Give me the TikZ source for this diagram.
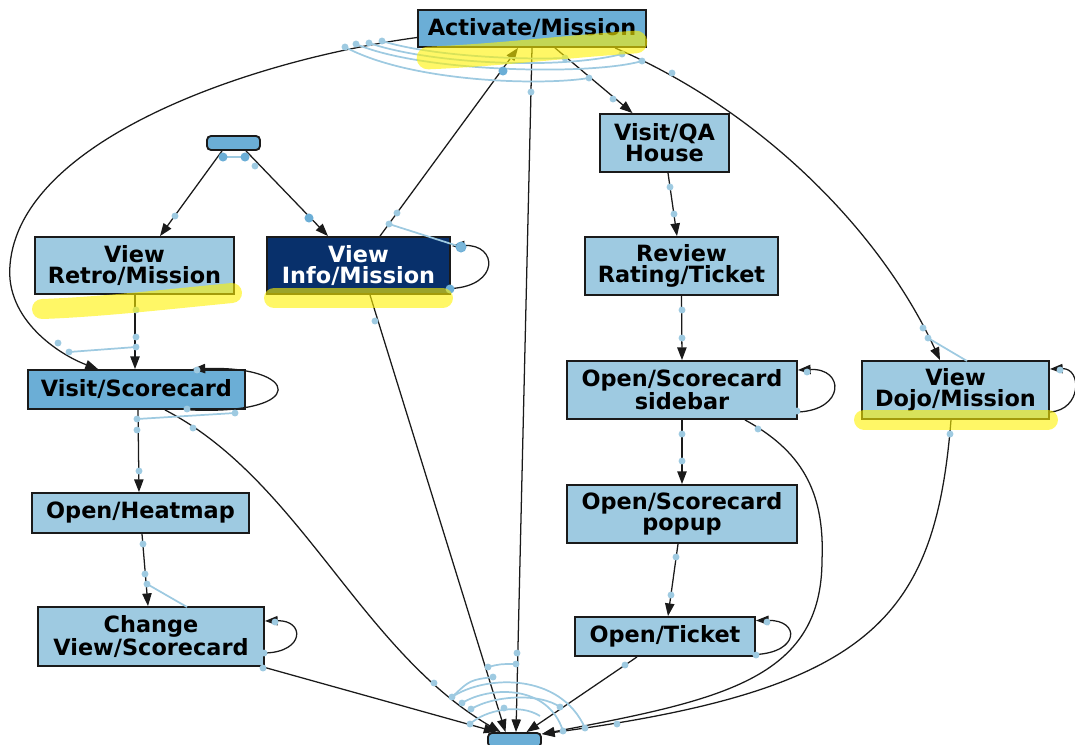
\documentclass[tikz,border=0pt]{standalone}
\usepackage{fontspec}
\setmainfont{DejaVu Sans}
\usetikzlibrary{arrows.meta,calc}
\definecolor{midblue}{HTML}{6BAED6}
\definecolor{lightblue}{HTML}{9ECAE1}
\definecolor{navy}{HTML}{08306B}
\definecolor{hiyellow}{HTML}{FFF200}
\definecolor{edgegray}{HTML}{1A1A1A}

\begin{document}
\begin{tikzpicture}[x=0.75pt,y=-0.75pt,
  state/.style={draw=edgegray, line width=1.4pt, fill=lightblue, inner sep=0pt,
    align=center, text=black, font=\fontsize{16.8}{15.8}\selectfont\bfseries},
  wh/.style 2 args={minimum width=#1*0.75pt, minimum height=#2*0.75pt},
  terminal/.style={state, fill=midblue, rounded corners=3pt, wh={53}{14}},
  edge/.style={draw=edgegray, line width=0.95pt},
  arr/.style={-{Triangle[length=9.5pt,width=7pt]}},
  deco/.style={draw=lightblue, line width=1.3pt},
  hl/.style={draw=hiyellow, opacity=0.6, line cap=round, line join=round, line width=15pt}
]
\useasboundingbox (0,0) rectangle (1075,744);

% states
\node[state,fill=midblue,wh={228}{37}] (act) at (532,28.5) {Activate/Mission};
\node[terminal] (src) at (233.5,143) {};
\node[state,wh={199}{57}] (retro) at (134.5,265.5) {View\\Retro/Mission};
\node[state,fill=navy,text=white,wh={183}{57}] (info) at (358.5,265.5) {View\\Info/Mission};
\node[state,wh={129}{58}] (qa) at (664.5,143) {Visit/QA\\House};
\node[state,wh={193}{58}] (review) at (681.5,266) {Review\\Rating/Ticket};
\node[state,fill=midblue,wh={217}{39}] (vscore) at (136.5,389.5) {Visit/Scorecard};
\node[state,wh={230}{58}] (sidebar) at (682,390) {Open/Scorecard\\sidebar};
\node[state,wh={187}{58}] (dojo) at (955.5,390) {View\\Dojo/Mission};
\node[state,wh={217}{40}] (heat) at (140.5,513) {Open/Heatmap};
\node[state,wh={230}{58}] (popup) at (682,514) {Open/Scorecard\\popup};
\node[state,wh={226}{59}] (change) at (151,636.5) {Change\\View/Scorecard};
\node[state,wh={180}{39}] (ticket) at (665,636.5) {Open/Ticket};
\node[terminal] (sink) at (514.5,740) {};

% transitions
\draw[edge,arr] ($(act.south)+(23,0)$) -- ($(qa.north)+(-32,0)$);
\draw[edge,arr] (act.south) -- ($(sink.north)+(1.5,0)$);
\draw[edge,arr] ($(info.north)+(21.5,0)$) -- ($(act.south)+(-14,0)$);
\draw[edge,arr] ($(act.west)+(0,9)$) .. controls (250,60) and (20,140) .. (10,265)
  .. controls (5,320) and (60,355) .. ($(vscore.north)+(-38.5,0)$);
\draw[edge,arr] ($(act.south)+(83,0)$) .. controls (760,110) and (880,230) .. ($(dojo.north)+(-15.5,0)$);
\draw[edge,arr] ($(src.south)+(-11.5,0)$) -- ($(retro.north)+(25.5,0)$);
\draw[edge,arr] ($(src.south)+(12.5,0)$) -- ($(info.north)+(-30.5,0)$);
\draw[edge,arr] ($(info.south)+(11.5,0)$) -- ($(sink.north)+(-9,0)$);
\draw[edge,arr] ($(info.east)+(0,23)$) .. controls (500,286) and (498,244) .. ($(info.east)+(1,-19.5)$);
\draw[edge,arr] ($(qa.south)+(3.5,0)$) -- ($(review.north)+(-4.5,0)$);
\draw[edge,arr] (review.south) -- (sidebar.north);
\draw[edge,arr] (sidebar.south) -- (popup.north);
\draw[edge,arr] ($(popup.south)+(-4,0)$) -- ($(ticket.north)+(3,0)$);
\draw[edge,arr] ($(sidebar.east)+(0,22)$) .. controls (845,410) and (845,368) .. ($(sidebar.east)+(0,-20)$);
\draw[edge,arr] ($(sidebar.south)+(63,0)$) .. controls (800,450) and (825,490) .. (822,560)
  .. controls (822,680) and (720,700) .. ($(sink.east)+(0,-6)$);
\draw[edge,arr] ($(dojo.east)+(0,22)$) .. controls (1082,410) and (1082,368) .. ($(dojo.east)+(0,-21)$);
\draw[edge,arr] ($(dojo.south)+(-4.5,0)$) .. controls (935,620) and (870,690) .. ($(sink.east)+(0,-6)$);
\draw[edge,arr] ($(retro.south)+(0.5,0)$) -- ($(vscore.north)+(-1.5,0)$);
\draw[edge,arr] ($(vscore.south)+(54,0)$) .. controls (310,415) and (300,365) .. ($(vscore.north)+(56,0)$);
\draw[edge,arr] ($(vscore.south)+(1.5,0)$) -- ($(heat.north)+(-1.5,0)$);
\draw[edge,arr] ($(vscore.south)+(28.5,0)$) .. controls (300,480) and (360,650) .. ($(sink.north)+(-14,0)$);
\draw[edge,arr] ($(heat.south)+(1.5,0)$) -- ($(change.north)+(-3,0)$);
\draw[edge,arr] ($(change.east)+(0,16.5)$) .. controls (305,652) and (305,620) .. ($(change.east)+(0,-15.5)$);
\draw[edge,arr] ($(change.south east)+(-2,0)$) -- ($(sink.north)+(-18,0)$);
\draw[edge,arr] ($(ticket.east)+(0,18)$) .. controls (800,652) and (800,620) .. ($(ticket.east)+(0,-16)$);
\draw[edge,arr] ($(ticket.south)+(-28,0)$) -- ($(sink.north)+(12,0)$);

% angle arcs around the top state
\draw[deco] (382,41) .. controls (430,56) and (520,60) .. (565,58);
\draw[deco] (369,43) .. controls (430,64) and (560,70) .. (622,54);
\draw[deco] (356,44) .. controls (420,72) and (590,76) .. (642,61);
\draw[deco] (345,47) .. controls (410,82) and (540,86) .. (589,78);
% angle arcs around the final state
\draw[deco] (452,697) .. controls (485,675) and (560,672) .. (585,728);
\draw[deco] (462,703) .. controls (490,686) and (548,684) .. (563,731);
\draw[deco] (471,709) .. controls (495,695) and (540,693) .. (560,707);
\draw[deco] (470,724) .. controls (485,710) and (520,703) .. (540,716);
\draw[deco] (488,667) .. controls (500,664) .. (516,664);
\draw[deco] (493,677) .. controls (470,680) .. (452,697);
% short links between neighbouring transitions
\draw[deco] (223,157) -- (245,157);
\draw[deco] (389,224) -- (461,247);
\draw[deco] (69,352) -- (136,347);
\draw[deco] (137,419) -- (235,413);
\draw[deco] (147,584) -- (187,607);
\draw[deco] (928,338) -- (967,361);

% markers on the transitions
\foreach \p in {(345,47),(356,44),(369,43),(382,41),(622,54),(642,61),(672,73),
  (565,58),(589,78),(613,99),(531,92),(255,166),(175,216),(397,213),(389,224),
  (375,321),(136,310),(136,337),(136,347),(58,343),(69,352),(197,370),
  (137,419),(235,413),(187,409),(137,430),(193,428),(139,471),
  (143,544),(145,574),(147,584),(275,622),(264,653),(263,668),
  (670,187),(674,214),(682,310),(682,338),(807,372),(797,411),(682,434),(682,461),
  (758,429),(676,557),(671,595),(767,622),(756,655),(625,665),
  (923,328),(928,338),(1060,370),(950,434),
  (434,683),(452,697),(462,703),(471,709),(470,724),(488,667),(493,677),
  (517,653),(516,664),(504,708),(560,707),(563,731),(585,728),(617,724)}
  \fill[lightblue] \p circle[radius=2.6pt];
\foreach \p in {(223,157),(245,157),(309,218),(503,71),(450,289)}
  \fill[midblue] \p circle[radius=3.4pt];
\fill[midblue!70!lightblue, draw=midblue, line width=0.6pt] (461,247) circle[radius=3.8pt];

% highlighter strokes
\draw[hl, line width=17pt] (428,58) .. controls (500,55) and (560,47) .. (636,42);
\draw[hl] (42,309) .. controls (100,307) and (170,299) .. (232,293);
\draw[hl] (274,298) -- (443,298);
\draw[hl] (864,419.5) -- (1048,419.5);
\end{tikzpicture}
\end{document}
